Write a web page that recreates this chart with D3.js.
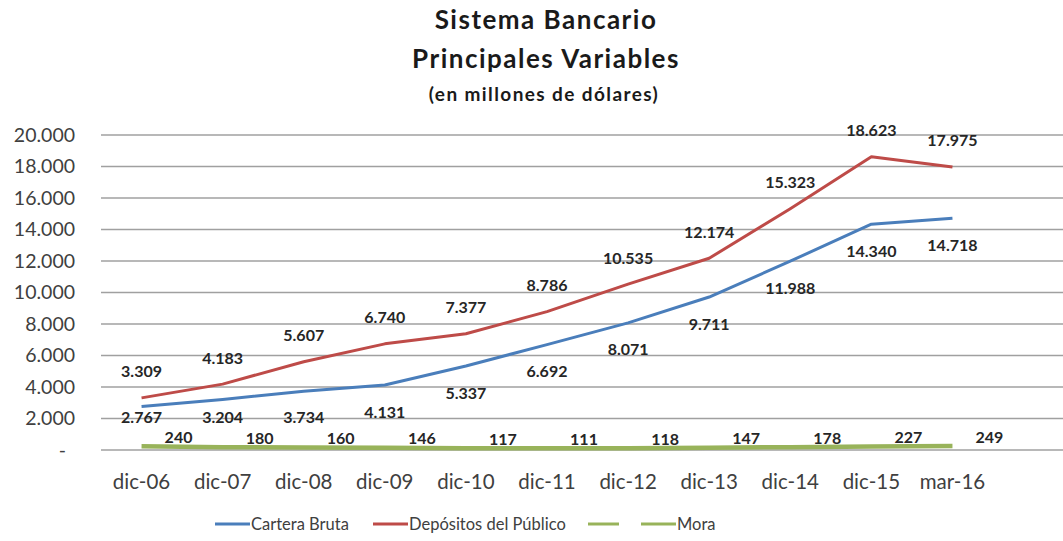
<!DOCTYPE html>
<html>
<head>
<meta charset="utf-8">
<script src="https://cdn.jsdelivr.net/npm/d3@7"></script>
<style>
  body { margin: 0; background: #fff; }
  svg { display: block; font-family: Lato, "Open Sans", sans-serif; }
</style>
</head>
<body>
<svg id="chart" width="1063" height="541"></svg>
<script>
// categories and series (millones de dólares)
const periodos = ["dic-06", "dic-07", "dic-08", "dic-09", "dic-10", "dic-11", "dic-12", "dic-13", "dic-14", "dic-15", "mar-16"];
const carteraBruta = [2767, 3204, 3734, 4131, 5337, 6692, 8071, 9711, 11988, 14340, 14718];
const depositos = [3309, 4183, 5607, 6740, 7377, 8786, 10535, 12174, 15323, 18623, 17975];
const mora = [240, 180, 160, 146, 117, 111, 118, 147, 178, 227, 249];
const yTicks = [0, 2000, 4000, 6000, 8000, 10000, 12000, 14000, 16000, 18000, 20000];
const legendNames = ["Cartera Bruta", "Depósitos del Público", "", "Mora"];

const svg = d3.select("#chart");

const x = d3.scalePoint().domain(periodos).range([101, 993]).padding(0.5);
const y = d3.scaleLinear().domain([0, 20000]).range([450, 135]);

const fmt = d3.formatLocale({decimal: ",", thousands: ".", grouping: [3], currency: ["", ""]}).format(",d");

// title
const title = svg.append("g").attr("text-anchor", "middle").attr("font-weight", "bold").attr("fill", "#1a1a1a");
title.append("text").attr("x", 546).attr("y", 29).attr("font-size", 26).attr("letter-spacing", 1.5).text("Sistema Bancario");
title.append("text").attr("x", 546).attr("y", 68).attr("font-size", 26).attr("letter-spacing", 1.5).text("Principales Variables");
title.append("text").attr("x", 544).attr("y", 101).attr("font-size", 19).attr("letter-spacing", 1.4).text("(en millones de dólares)");

// gridlines
svg.append("g")
    .selectAll("line")
    .data(yTicks)
    .join("line")
    .attr("x1", 101).attr("x2", 1063)
    .attr("y1", d => y(d)).attr("y2", d => y(d))
    .attr("stroke", "#a0a0a0")
    .attr("stroke-width", 1.7);

// y labels
svg.append("g")
    .selectAll("text")
    .data(yTicks)
    .join("text")
    .attr("x", d => d == 0 ? 66 : 75)
    .attr("y", d => y(d))
    .attr("dy", "0.35em")
    .attr("text-anchor", "end")
    .attr("font-size", 19.5)
    .attr("fill", "#404040")
    .text(d => d == 0 ? "-" : fmt(d));

// x labels
svg.append("g")
    .selectAll("text")
    .data(periodos)
    .join("text")
    .attr("x", d => x(d))
    .attr("y", 482)
    .attr("dy", "0.35em")
    .attr("text-anchor", "middle")
    .attr("font-size", 20.5)
    .attr("fill", "#404040")
    .text(d => d);

const series = [
    {name: "Cartera Bruta", values: carteraBruta, color: "#4a7ebb", width: 3},
    {name: "Depósitos del Público", values: depositos, color: "#be4b48", width: 3},
    {name: "Mora", values: mora, color: "#98b35a", width: 4.5}
];

const line = d3.line()
    .x((d, i) => x(periodos[i]))
    .y(d => y(d));

svg.append("g")
    .selectAll("path")
    .data(series)
    .join("path")
    .attr("d", d => line(d.values))
    .attr("fill", "none")
    .attr("stroke", d => d.color)
    .attr("stroke-width", d => d.width)
    .attr("stroke-linejoin", "round");

// data labels
const lab = svg.append("g")
    .attr("font-size", 16)
    .attr("font-weight", "bold")
    .attr("fill", "#262626")
    .attr("text-anchor", "middle");

lab.selectAll("text.cartera")
    .data(carteraBruta)
    .join("text")
    .attr("class", "cartera")
    .attr("x", (d, i) => x(periodos[i]))
    .attr("y", d => Math.min(y(d) + 27, 417))
    .attr("dy", "0.35em")
    .text(d => fmt(d));

lab.selectAll("text.depositos")
    .data(depositos)
    .join("text")
    .attr("class", "depositos")
    .attr("x", (d, i) => x(periodos[i]))
    .attr("y", d => y(d) - 26)
    .attr("dy", "0.35em")
    .text(d => fmt(d));

lab.selectAll("text.mora")
    .data(mora)
    .join("text")
    .attr("class", "mora")
    .attr("x", (d, i) => x(periodos[i]) + 37)
    .attr("y", d => y(d) - 9)
    .attr("dy", "0.35em")
    .text(d => fmt(d));

// legend
const legendColors = ["#4a7ebb", "#be4b48", "#98b35a", "#98b35a"];
const legendX = [215, 373, 588, 641];
const legend = svg.append("g");
const item = legend.selectAll("g")
    .data(legendNames)
    .join("g")
    .attr("transform", (d, i) => `translate(${legendX[i]},524)`);
item.append("line")
    .attr("x1", 0).attr("x2", (d, i) => i == 2 ? 31 : 35)
    .attr("stroke", (d, i) => legendColors[i])
    .attr("stroke-width", 3);
item.append("text")
    .attr("x", 36)
    .attr("dy", "0.35em")
    .attr("font-size", 16.5)
    .attr("fill", "#404040")
    .text(d => d);
</script>
</body>
</html>
